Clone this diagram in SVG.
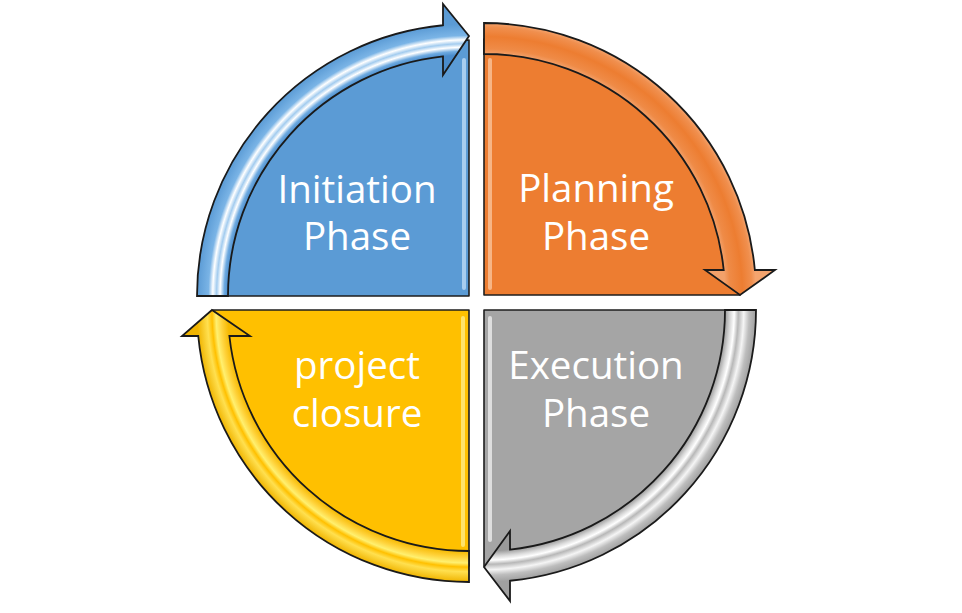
<svg xmlns="http://www.w3.org/2000/svg" width="962" height="613" viewBox="0 0 962 613">
  <style>
    .q { stroke: #1e1e1e; stroke-width: 1.6; stroke-linejoin: round; }
    .arr { stroke: #1a1a1a; stroke-width: 1.8; stroke-linejoin: miter; }
    .lbl { font-family: "Open Sans", "Liberation Sans", sans-serif; font-size: 38.5px; fill: #ffffff; text-anchor: middle; }
    .bev { fill: none; stroke-width: 4; stroke-linecap: round; }
  </style>
  <defs>
    <radialGradient id="gBlue" gradientUnits="userSpaceOnUse" cx="469" cy="296" r="272">
      <stop offset="0.886" stop-color="#4a8ccc"/>
      <stop offset="0.90" stop-color="#6eaae0"/>
      <stop offset="0.915" stop-color="#ffffff"/>
      <stop offset="0.928" stop-color="#a3ccef"/>
      <stop offset="0.942" stop-color="#ffffff"/>
      <stop offset="0.958" stop-color="#7ab4e6"/>
      <stop offset="1" stop-color="#5b9bd5"/>
    </radialGradient>
    <radialGradient id="gOrange" gradientUnits="userSpaceOnUse" cx="484" cy="295" r="272">
      <stop offset="0.886" stop-color="#f3a16a"/>
      <stop offset="0.905" stop-color="#ef8b47"/>
      <stop offset="0.95" stop-color="#ed7d31"/>
      <stop offset="0.985" stop-color="#f08f4e"/>
      <stop offset="1" stop-color="#f4a46e"/>
    </radialGradient>
    <radialGradient id="gGray" gradientUnits="userSpaceOnUse" cx="484" cy="310" r="272">
      <stop offset="0.886" stop-color="#9a9a9a"/>
      <stop offset="0.905" stop-color="#d8d8d8"/>
      <stop offset="0.92" stop-color="#ffffff"/>
      <stop offset="0.935" stop-color="#b8b8b8"/>
      <stop offset="0.955" stop-color="#f5f5f5"/>
      <stop offset="0.975" stop-color="#bdbdbd"/>
      <stop offset="1" stop-color="#a0a0a0"/>
    </radialGradient>
    <radialGradient id="gGold" gradientUnits="userSpaceOnUse" cx="469" cy="310" r="272">
      <stop offset="0.886" stop-color="#f5b800"/>
      <stop offset="0.91" stop-color="#ffd23a"/>
      <stop offset="0.93" stop-color="#fff070"/>
      <stop offset="0.945" stop-color="#ffc000"/>
      <stop offset="0.962" stop-color="#ffe050"/>
      <stop offset="1" stop-color="#f0b400"/>
    </radialGradient>
  </defs>
  <rect width="962" height="613" fill="#ffffff"/>

  <g id="initiation">
    <path class="q" fill="#5b9bd5" d="M 469 296 L 213 296 A 256 256 0 0 1 469 40 Z"/>
    <line class="bev" stroke="#a8cdef" x1="464" y1="60" x2="464" y2="288"/>
    <text class="lbl" x="357" y="203">Initiation</text>
    <text class="lbl" x="357" y="250">Phase</text>
  </g>

  <g id="planning">
    <path class="q" fill="#ed7d31" d="M 484 295 L 484 39 A 256 256 0 0 1 740 295 Z"/>
    <line class="bev" stroke="#f7b585" x1="490" y1="60" x2="490" y2="288"/>
    <text class="lbl" x="596" y="202">Planning</text>
    <text class="lbl" x="596" y="250">Phase</text>
  </g>

  <g id="execution">
    <path class="q" fill="#a5a5a5" d="M 484 310 L 740 310 A 256 256 0 0 1 484 566 Z"/>
    <line class="bev" stroke="#dedede" x1="490" y1="318" x2="490" y2="540"/>
    <text class="lbl" x="596" y="379">Execution</text>
    <text class="lbl" x="596" y="427">Phase</text>
  </g>

  <g id="closure">
    <path class="q" fill="#ffc000" d="M 469 310 L 469 566 A 256 256 0 0 1 213 310 Z"/>
    <line class="bev" stroke="#ffe36b" x1="463" y1="318" x2="463" y2="545"/>
    <text class="lbl" x="357" y="379">project</text>
    <text class="lbl" x="357" y="427">closure</text>
  </g>

  <g id="connectors">
    <path class="arr" fill="url(#gBlue)" d="M 197 296 A 272 272 0 0 1 443 25.25 L 443 4 L 469 36 L 443 75 L 443 56.4 A 241 241 0 0 0 228 296 Z"/>
    <path class="arr" fill="url(#gOrange)" d="M 484 23 A 272 272 0 0 1 754.85 270 L 775 270 L 740 295 L 705 270 L 723.7 270 A 241 241 0 0 0 484 54 Z"/>
    <path class="arr" fill="url(#gGray)" d="M 756 310 A 272 272 0 0 1 510 580.75 L 510 601 L 484 567 L 510 531 L 510 549.6 A 241 241 0 0 0 725 310 Z"/>
    <path class="arr" fill="url(#gGold)" d="M 469 582 A 272 272 0 0 1 198.25 336 L 182 336 L 212 310 L 250 336 L 229.4 336 A 241 241 0 0 0 469 551 Z"/>
  </g>
</svg>
